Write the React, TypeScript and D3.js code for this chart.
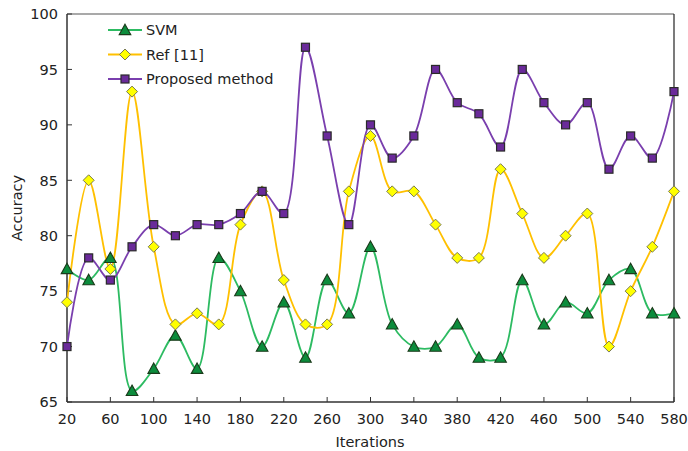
import React from "react";
import * as d3 from "d3";

const iterations = [20, 40, 60, 80, 100, 120, 140, 160, 180, 200, 220, 240, 260, 280, 300, 320, 340, 360, 380, 400, 420, 440, 460, 480, 500, 520, 540, 560, 580];
const svmValues = [77, 76, 78, 66, 68, 71, 68, 78, 75, 70, 74, 69, 76, 73, 79, 72, 70, 70, 72, 69, 69, 76, 72, 74, 73, 76, 77, 73, 73];
const refValues = [74, 85, 77, 93, 79, 72, 73, 72, 81, 84, 76, 72, 72, 84, 89, 84, 84, 81, 78, 78, 86, 82, 78, 80, 82, 70, 75, 79, 84];
const proposedValues = [70, 78, 76, 79, 81, 80, 81, 81, 82, 84, 82, 97, 89, 81, 90, 87, 89, 95, 92, 91, 88, 95, 92, 90, 92, 86, 89, 87, 93];
const xTicks = [20, 60, 100, 140, 180, 220, 260, 300, 340, 380, 420, 460, 500, 540, 580];
const yTicks = [65, 70, 75, 80, 85, 90, 95, 100];
const seriesNames = ["SVM", "Ref [11]", "Proposed method"];

const W = 688, H = 451;
const L = 67, R = 674, T = 14, B = 402;
const FONT = "Verdana, 'DejaVu Sans', sans-serif";

const styles = [
  { line: "#2dbb62", fill: "#0c8c3c", stroke: "#1a3a1a", shape: "triangle" },
  { line: "#ffc000", fill: "#ffff00", stroke: "#7a7a50", shape: "diamond" },
  { line: "#7a3fae", fill: "#6a2a9a", stroke: "#2a2a2a", shape: "square" },
];

function Marker({ x, y, shape, fill, stroke }: any) {
  if (shape === "triangle") {
    const s = 5.8;
    return <path d={`M${x},${y - s}L${x + s},${y + s * 0.8}L${x - s},${y + s * 0.8}Z`} fill={fill} stroke={stroke} strokeWidth={1.1} />;
  }
  if (shape === "diamond") {
    const s = 5.5;
    return <path d={`M${x},${y - s}L${x + s},${y}L${x},${y + s}L${x - s},${y}Z`} fill={fill} stroke={stroke} strokeWidth={1} />;
  }
  const s = 4;
  return <rect x={x - s} y={y - s} width={2 * s} height={2 * s} fill={fill} stroke={stroke} strokeWidth={1.2} />;
}

export default function App() {
  const x = d3.scaleLinear().domain([20, 580]).range([L, R]);
  const y = d3.scaleLinear().domain([65, 100]).range([B, T]);
  const data = [svmValues, refValues, proposedValues];
  const line = d3
    .line<number>()
    .x((_, i) => x(iterations[i]))
    .y((d) => y(d))
    .curve(d3.curveCatmullRom.alpha(0.5));

  return (
    <svg width={W} height={H} style={{ position: "absolute", left: 0, top: 0, background: "#fff" }} fontFamily={FONT}>
      <rect x={0} y={0} width={W} height={H} fill="#fff" />
      <line x1={L} y1={T} x2={R} y2={T} stroke="#555" strokeWidth={1.2} />
      <line x1={R} y1={T} x2={R} y2={B} stroke="#222" strokeWidth={1.2} />
      {yTicks.map((t) => (
        <g key={"y" + t}>
          <line x1={L} x2={L + 5} y1={y(t)} y2={y(t)} stroke="#333" strokeWidth={1} />
          <text x={58} y={y(t)} dy="0.36em" textAnchor="end" fontSize={14.5} fill="#222">{t}</text>
        </g>
      ))}
      {xTicks.map((t) => (
        <g key={"x" + t}>
          <line x1={x(t)} x2={x(t)} y1={B} y2={B - 5} stroke="#333" strokeWidth={1} />
          <text x={x(t)} y={424} textAnchor="middle" fontSize={14.5} fill="#222">{t}</text>
        </g>
      ))}
      <line x1={L} y1={T} x2={L} y2={B} stroke="#333" strokeWidth={1.5} />
      <line x1={L} y1={B} x2={R} y2={B} stroke="#333" strokeWidth={1.5} />
      {data.map((vals, si) => (
        <path key={"l" + si} d={line(vals) || ""} fill="none" stroke={styles[si].line} strokeWidth={1.8} />
      ))}
      {data.map((vals, si) => (
        <g key={"m" + si}>
          {vals.map((v, i) => (
            <Marker key={i} x={x(iterations[i])} y={y(v)} shape={styles[si].shape} fill={styles[si].fill} stroke={styles[si].stroke} />
          ))}
        </g>
      ))}
      {seriesNames.map((n, i) => {
        const ly = 30 + i * 24.5;
        return (
          <g key={"lg" + i}>
            <line x1={108} x2={142} y1={ly} y2={ly} stroke={styles[i].line} strokeWidth={1.8} />
            <Marker x={125} y={ly} shape={styles[i].shape} fill={styles[i].fill} stroke={styles[i].stroke} />
            <text x={146} y={ly} dy="0.36em" fontSize={14.5} fill="#222">{n}</text>
          </g>
        );
      })}
      <text x={370} y={447} textAnchor="middle" fontSize={14.5} fill="#222">Iterations</text>
      <text transform={`translate(22,208) rotate(-90)`} textAnchor="middle" fontSize={14.5} fill="#222">Accuracy</text>
    </svg>
  );
}
